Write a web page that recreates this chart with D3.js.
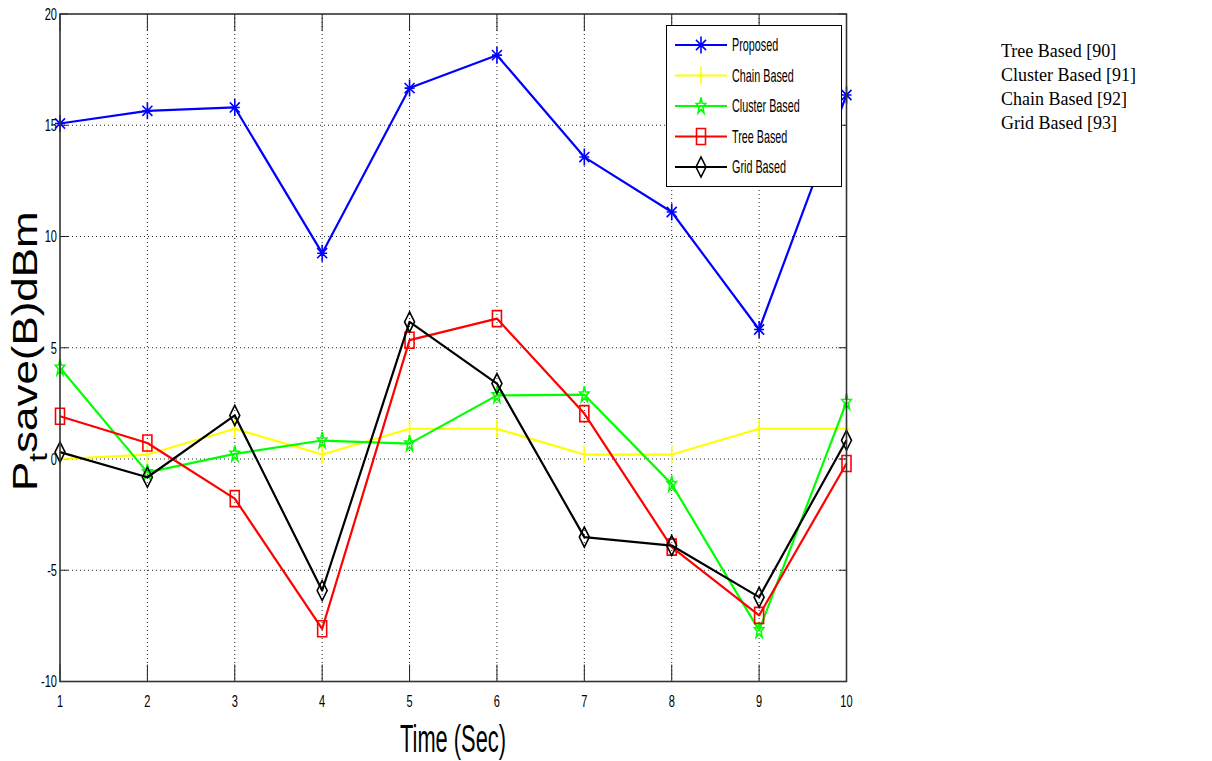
<!DOCTYPE html>
<html><head><meta charset="utf-8">
<script src="https://cdn.jsdelivr.net/npm/d3@7"></script>
<style>body{margin:0;background:#fff}</style></head>
<body><svg id="c" width="1212" height="761"></svg>
<script>
const times=[1,2,3,4,5,6,7,8,9,10];
const proposed=[15.08,15.65,15.8,9.25,16.67,18.15,13.57,11.1,5.82,16.36];
const chain=[0.0,0.2,1.36,0.2,1.36,1.36,0.2,0.2,1.36,1.36];
const cluster=[4.1,-0.6,0.23,0.83,0.69,2.86,2.89,-1.13,-7.7,2.56];
const tree=[1.92,0.72,-1.78,-7.63,5.34,6.31,2.04,-3.96,-7.03,-0.2];
const grid=[0.31,-0.82,1.96,-5.91,6.16,3.39,-3.51,-3.89,-6.21,0.84];
const xTicks=[1,2,3,4,5,6,7,8,9,10];
const yTicks=[-10,-5,0,5,10,15,20];
const seriesNames=["Proposed","Chain Based","Cluster Based","Tree Based","Grid Based"];
const seriesColors=["#0000ff","#ffff00","#00ff00","#ff0000","#000000"];
const seriesMarkers=["asterisk","plus","pentagram","square","diamond"];
const notes=["Tree Based [90]","Cluster Based [91]","Chain Based [92]","Grid Based [93]"];
const xLabel="Time (Sec)";

const svg=d3.select("#c");
const L=60,R=846.5,T=14,B=681.5;
const x=d3.scaleLinear().domain([1,10]).range([L,R]);
const y=d3.scaleLinear().domain([-10,20]).range([B,T]);
const NARROW="'Liberation Sans Narrow','Arial Narrow',sans-serif";

function ctext(g,px,py,str,size,sx,anchor,fam){
  return g.append("text").attr("transform",`translate(${px},${py}) scale(${sx},1)`)
   .attr("text-anchor",anchor||"start").attr("dominant-baseline","central")
   .attr("font-family",fam||NARROW).attr("font-size",size).attr("fill","#000").text(str);
}
function markerPath(type,w,h){
  const a=w/2,b=h/2;
  switch(type){
    case "asterisk": return `M0,${-b}V${b}M${-a},${-b*0.6}L${a},${b*0.6}M${-a},${b*0.6}L${a},${-b*0.6}M${-a},0H${a}`;
    case "plus": return `M0,${-b}V${b}M${-a},0H${a}`;
    case "square": return `M${-a},${-b}H${a}V${b}H${-a}Z`;
    case "diamond": return `M0,${-b}L${a},0L0,${b}L${-a},0Z`;
    case "pentagram": {
      let p=[];for(let i=0;i<10;i++){const r=i%2?0.4:1;const ang=-Math.PI/2+i*Math.PI/5;p.push([a*r*Math.cos(ang),b*r*Math.sin(ang)]);}
      return "M"+p.map(d=>d.join(",")).join("L")+"Z";}
  }
}
const mSize={asterisk:[10,17],plus:[6,18],pentagram:[10,17],square:[9,16],diamond:[10,20]};

// grid
const gg=svg.append("g").attr("stroke","#222").attr("stroke-width",1).attr("stroke-dasharray","1,3");
xTicks.forEach(t=>{if(t>1&&t<10)gg.append("line").attr("x1",x(t)).attr("x2",x(t)).attr("y1",T).attr("y2",B);});
yTicks.forEach(t=>{if(t>-10&&t<20)gg.append("line").attr("x1",L).attr("x2",R).attr("y1",y(t)).attr("y2",y(t));});
// ticks
const tk=svg.append("g").attr("stroke","#222").attr("stroke-width",1);
xTicks.forEach(t=>{tk.append("line").attr("x1",x(t)).attr("x2",x(t)).attr("y1",B).attr("y2",B-17);
  tk.append("line").attr("x1",x(t)).attr("x2",x(t)).attr("y1",T).attr("y2",T+17);});
yTicks.forEach(t=>{tk.append("line").attr("x1",L).attr("x2",L+8).attr("y1",y(t)).attr("y2",y(t));
  tk.append("line").attr("x1",R).attr("x2",R-8).attr("y1",y(t)).attr("y2",y(t));});
// axes via d3
const xa=svg.append("g").attr("transform",`translate(0,${B})`).call(d3.axisBottom(x).tickValues(xTicks).tickSize(0).tickFormat(""));
xa.select(".domain").remove();
const tl=svg.append("g");
xTicks.forEach(t=>ctext(tl,x(t),701,String(t),17,0.65,"middle"));
yTicks.forEach(t=>ctext(tl,57,y(t),String(t),17,0.65,"end"));

// series
const allData=[proposed,chain,cluster,tree,grid];
const line=d3.line().x((d,i)=>x(times[i])).y(d=>y(d));
allData.forEach((arr,k)=>{
  const g=svg.append("g");
  g.append("path").attr("d",line(arr)).attr("fill","none").attr("stroke",seriesColors[k]).attr("stroke-width",2.2).attr("stroke-linejoin","round");
  const [w,h]=mSize[seriesMarkers[k]];
  g.selectAll("path.m").data(arr).join("path").attr("class","m")
   .attr("transform",(d,i)=>`translate(${x(times[i])},${y(d)})`)
   .attr("d",markerPath(seriesMarkers[k],w,h)).attr("fill","none")
   .attr("stroke",seriesColors[k]).attr("stroke-width",1.6);
});
// box
svg.append("rect").attr("x",L).attr("y",T).attr("width",R-L).attr("height",B-T).attr("fill","none").attr("stroke","#333").attr("stroke-width",1.6);

// legend
const lg=svg.append("g");
lg.append("rect").attr("x",666.5).attr("y",25.5).attr("width",175).attr("height",161).attr("fill","#fff").attr("stroke","#000").attr("stroke-width",1);
seriesNames.forEach((n,k)=>{
  const yy=45+k*30.5;
  lg.append("line").attr("x1",675).attr("x2",727).attr("y1",yy).attr("y2",yy).attr("stroke",seriesColors[k]).attr("stroke-width",2.2);
  const [w,h]=mSize[seriesMarkers[k]];
  lg.append("path").attr("transform",`translate(701,${yy})`).attr("d",markerPath(seriesMarkers[k],w,h)).attr("fill","none").attr("stroke",seriesColors[k]).attr("stroke-width",1.6);
  ctext(lg,732,yy,n,18,0.6,"start");
});

// axis titles
ctext(svg,453,738,xLabel,39,0.56,"middle");
const yl=svg.append("text").attr("transform","translate(37,491) rotate(-90) scale(1.22,1)")
  .attr("font-family","'Liberation Sans',Arial,sans-serif").attr("font-size",36).attr("fill","#000");
yl.append("tspan").text("P");
yl.append("tspan").attr("dy",10).attr("font-size",26).text("t");
yl.append("tspan").attr("dy",-10).text("save(B)dBm");

// side notes
const nt=svg.append("g");
notes.forEach((s,i)=>nt.append("text").attr("x",1001).attr("y",57+i*24).attr("font-family","'Liberation Serif','Times New Roman',serif").attr("font-size",18).attr("fill","#000").text(s));
</script></body></html>
